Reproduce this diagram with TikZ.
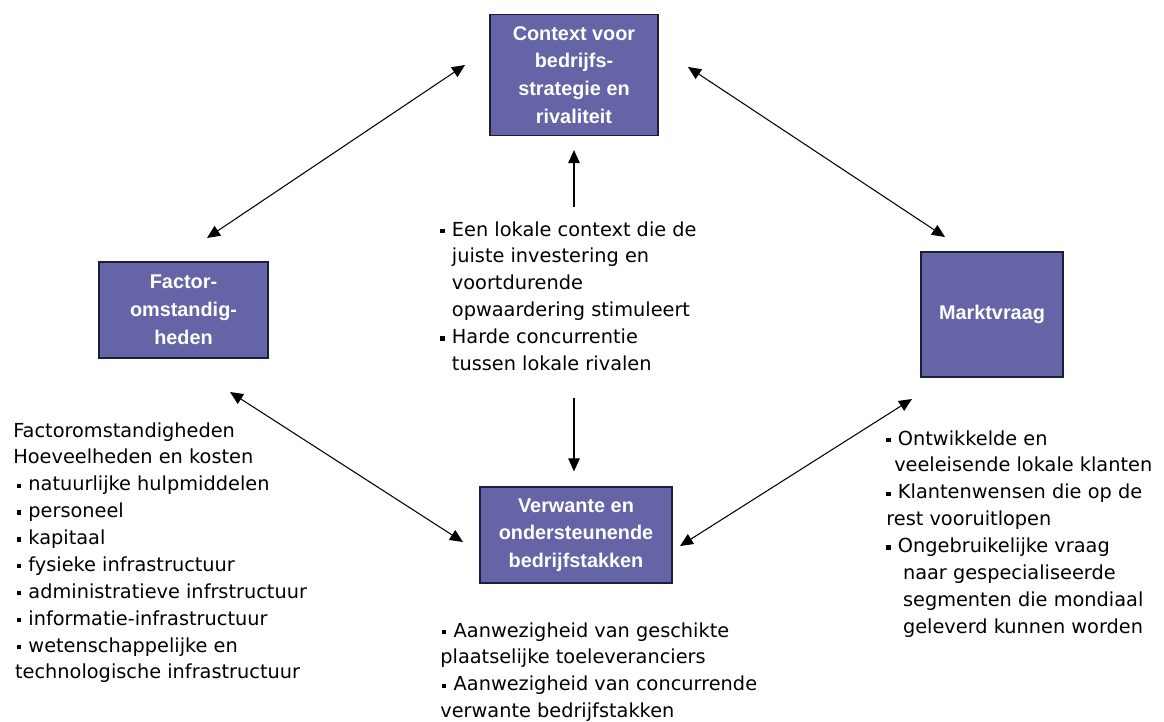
\documentclass[tikz,border=0pt]{standalone}
\usepackage{xcolor}
\usepackage{fontspec}
\usepackage{tikz}
\usetikzlibrary{arrows.meta}
\usetikzlibrary{positioning}
\usetikzlibrary{calc}
\setmainfont{DejaVu Sans}
\newfontfamily\boxfont{Liberation Sans}
\definecolor{boxfill}{HTML}{6464A6}
\definecolor{boxline}{HTML}{1C1C3C}
\newcommand{\blt}{\rule[1.7pt]{2.4pt}{2.4pt}\hspace{4.2pt}}
\newcommand{\ind}{\phantom{\blt}}

\begin{document}
\begin{tikzpicture}[x=0.02cm,y=-0.02cm,
  force/.style 2 args={
    rectangle,
    draw=boxline,
    line width=0.7pt,
    fill=boxfill,
    text=white,
    minimum width=#1,
    minimum height=#2,
    align=center,
    inner sep=0pt,
    font=\boxfont\bfseries\fontsize{11.3}{15.8}\selectfont},
  info/.style={
    anchor=north west,
    align=left,
    inner sep=0pt,
    font=\fontsize{11}{15.3}\selectfont},
  dep/.style={
    <->,>={Triangle[length=2.6mm,width=2.3mm]},line width=0.6pt},
  up/.style={
    ->,>={Triangle[length=2.6mm,width=2.3mm]},line width=0.6pt},
]
  \useasboundingbox (0,0) rectangle (1164,722);

  % Diamond of forces
  \node[force={3.36cm}{2.42cm}] (ctx) at (574,75) {Context voor\\bedrijfs-\\strategie en\\rivaliteit};
  \node[force={3.38cm}{1.92cm}] (factor) at (183.5,310) {Factor-\\omstandig-\\heden};
  \node[force={2.84cm}{2.5cm}] (markt) at (992,314.5) {Marktvraag};
  \node[force={3.84cm}{1.92cm}] (verwant) at (576,535) {Verwante en\\ondersteunende\\bedrijfstakken};

  % Explanations
  \node[info] (ctxtxt) at (440,221) {\blt Een lokale context die de\\
    \ind juiste investering en\\
    \ind voortdurende\\
    \ind opwaardering stimuleert\\
    \blt Harde concurrentie\\
    \ind tussen lokale rivalen};

  \node[info] (factortxt) at (13,422) {Factoromstandigheden\\
    Hoeveelheden en kosten\\
    \hspace*{2pt}\blt natuurlijke hulpmiddelen\\
    \hspace*{2pt}\blt personeel\\
    \hspace*{2pt}\blt kapitaal\\
    \hspace*{2pt}\blt fysieke infrastructuur\\
    \hspace*{2pt}\blt administratieve infrstructuur\\
    \hspace*{2pt}\blt informatie-infrastructuur\\
    \hspace*{2pt}\blt wetenschappelijke en\\
    \hspace*{1pt}technologische infrastructuur};

  \node[info] (markttxt) at (886,430) {\blt Ontwikkelde en\\
    \hspace*{4.5pt}veeleisende lokale klanten\\
    \blt Klantenwensen die op de\\
    rest vooruitlopen\\
    \blt Ongebruikelijke vraag\\
    \hspace*{9.5pt}naar gespecialiseerde\\
    \hspace*{9.5pt}segmenten die mondiaal\\
    \hspace*{9.5pt}geleverd kunnen worden};

  \node[info] (verwanttxt) at (440,622) {\hspace*{1pt}\blt Aanwezigheid van geschikte\\
    plaatselijke toeleveranciers\\
    \hspace*{1pt}\blt Aanwezigheid van concurrende\\
    verwante bedrijfstakken};

  % Arrow ends
  \coordinate (fc) at (207,238);
  \coordinate (cf) at (465,65);
  \coordinate (cm) at (688,67);
  \coordinate (mc) at (945,237);
  \coordinate (fv) at (230,392);
  \coordinate (vf) at (463,542);
  \coordinate (mv) at (912,399);
  \coordinate (vm) at (680,546);
  \coordinate (upfoot) at (574,207);
  \coordinate (downfoot) at (574,398);

  \draw[dep] (fc) to (cf);
  \draw[dep] (cm) to (mc);
  \draw[dep] (fv) to (vf);
  \draw[dep] (mv) to (vm);

  \draw[up,shorten >=2.8mm] (upfoot) to (ctx.south -| upfoot);
  \draw[up,shorten >=3mm] (downfoot) to (verwant.north -| downfoot);

\end{tikzpicture}
\end{document}
